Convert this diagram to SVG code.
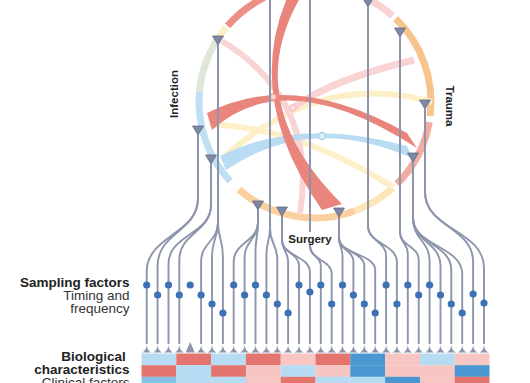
<svg xmlns="http://www.w3.org/2000/svg" width="530" height="383" viewBox="0 0 530 383">
<style>
.ring{fill:none;stroke-width:7}
.rib{fill:none}
.ln{fill:none;stroke:#8c95ac;stroke-width:1.9}
.tri{fill:#7e88a5;stroke:#5f6987;stroke-width:0.8;stroke-linejoin:round}
.fan{fill:#8c95ac}
.dot{fill:#3d71b3}
.lbl{font-family:"Liberation Sans",Arial,sans-serif;fill:#222}
.b{font-weight:bold}
.r{font-weight:normal;fill:#333}
.lb{fill:#b5dcf3}.rd{fill:#e3756e}.lp{fill:#f8c6c2}.db{fill:#4a96d0}.mb{fill:#86c1e8}
</style>
<defs>
<path id="fan" d="M0,0 Q0,6.5 -4.6,8.5 H4.6 Q0,6.5 0,0Z"/>
<path id="tv" d="M-5.5,-9 H5.5 L0,0Z"/>
</defs>
<rect width="530" height="383" fill="#fff"/>

<g id="ring">
<path class="ring" stroke="#ec8f87" d="M227.5,25.9 A116,116 0 0 1 264.1,-2.3"/>
<path class="ring" stroke="#f9d3d1" d="M369.5,-0.4 A116,116 0 0 1 392.6,15.8"/>
<path class="ring" stroke="#f8c48e" d="M395.6,18.6 A116,116 0 0 1 430.1,116.1"/>
<path class="ring" stroke="#f2ada2" d="M429.2,122.1 A116,116 0 0 1 397.0,184.0"/>
<path class="ring" stroke="#fde6b8" d="M392.6,188.2 A116,116 0 0 1 354.7,211.0"/>
<path class="ring" stroke="#fbcf9f" d="M354.7,211.0 A116,116 0 0 1 238.9,189.5"/>
<path class="ring" stroke="#bfdff2" d="M230.2,181.1 A116,116 0 0 1 199.4,91.9"/>
<path class="ring" stroke="#dfe7dc" d="M199.4,91.9 A116,116 0 0 1 217.7,38.8"/>
<path class="ring" stroke="#fcefc5" d="M217.7,38.8 A116,116 0 0 1 226.1,27.4"/>
</g>

<g id="chords">
<path class="rib" stroke="#fdf0c8" stroke-width="6" d="M210,124 Q300,128 393,187"/>
<path class="rib" stroke="#fdf0c8" stroke-width="6" d="M223,158 Q320,70 432,102"/>
<path class="rib" stroke="#f9d4d4" stroke-width="6" d="M222,41 Q318,100 300,213"/>
<path class="rib" stroke="#f9d4d4" stroke-width="7" d="M414,60 Q330,80 293,108"/>
<path fill="#b9dcf3" d="M220,156 Q300,116 407,146 L412,158 Q310,113 226,170 Z"/>
<path fill="#e9857d" d="M287,-2 Q244,100 322,210 L342,204 Q240,103 300,-2 Z"/>
<path fill="#e9857d" d="M207,113 Q293,69 407,133 L417,148 Q285.5,63 212,130 Z"/>
<circle cx="273" cy="97" r="3" fill="#fbd6d2" stroke="#eea49c" stroke-width="1.3"/>
<circle cx="293" cy="108" r="3" fill="#fce4e4" stroke="#f5c0c0" stroke-width="1.3"/>
<circle cx="322" cy="136" r="3.5" fill="#d9ecf9" stroke="#a9d2ef" stroke-width="1.3"/>
</g>

<g id="connectors">
<path class="ln" d="M198,135V198C198,235 146.7,235 146.7,272V344"/>
<path class="ln" d="M198,135V198C198,232 157.6,232 157.6,266V344"/>
<path class="ln" d="M211,164V205C211,234.5 168.5,234.5 168.5,264V344"/>
<path class="ln" d="M211,164V205C211,232.5 179.3,232.5 179.3,260V344"/>
<path class="ln" d="M218,45V222C218,242 201.1,242 201.1,262V344"/>
<path class="ln" d="M218,45V222C218,239 212,239 212,256V344"/>
<path class="ln" d="M218,45V222C218,239 222.9,239 222.9,256V344"/>
<path class="ln" d="M258,210V222C258,242 233.7,242 233.7,262V344"/>
<path class="ln" d="M258,210V222C258,240 244.6,240 244.6,258V344"/>
<path class="ln" d="M258,210V222C258,237 255.5,237 255.5,252V344"/>
<path class="ln" d="M270,0V228C270,241.5 266.4,241.5 266.4,255V344"/>
<path class="ln" d="M270,0V228C270,244 277.3,244 277.3,260V344"/>
<path class="ln" d="M282,216V240C282,251 288.1,251 288.1,262V344"/>
<path class="ln" d="M282,216V240C282,253 299,253 299,266V344"/>
<path class="ln" d="M282,216V240C282,256 309.9,256 309.9,272V344"/>
<path class="ln" d="M310,0V246C310,256 320.8,256 320.8,266V344"/>
<path class="ln" d="M310,0V246C310,260 331.7,260 331.7,274V344"/>
<path class="ln" d="M339,217V238C339,247 342.5,247 342.5,256V344"/>
<path class="ln" d="M339,217V238C339,250 353.4,250 353.4,262V344"/>
<path class="ln" d="M339,217V238C339,252 364.3,252 364.3,266V344"/>
<path class="ln" d="M339,217V238C339,254 375.2,254 375.2,270V344"/>
<path class="ln" d="M368,7V226C368,241 386.1,241 386.1,256V344"/>
<path class="ln" d="M368,7V226C368,244 396.9,244 396.9,262V344"/>
<path class="ln" d="M400,37V232C400,243 407.8,243 407.8,254V344"/>
<path class="ln" d="M400,37V232C400,246 418.7,246 418.7,260V344"/>
<path class="ln" d="M413,162V218C413,240 429.6,240 429.6,262V344"/>
<path class="ln" d="M413,162V218C413,242 440.5,242 440.5,266V344"/>
<path class="ln" d="M413,162V218C413,244 451.3,244 451.3,270V344"/>
<path class="ln" d="M413,162V218C413,246 462.2,246 462.2,274V344"/>
<path class="ln" d="M425,109V192C425,227 473.1,227 473.1,262V344"/>
<path class="ln" d="M425,109V192C425,230 484,230 484,268V344"/>
</g>

<g id="sample-points">
<use href="#tv" class="tri" x="218" y="45"/>
<use href="#tv" class="tri" x="198" y="135"/>
<use href="#tv" class="tri" x="211" y="164"/>
<use href="#tv" class="tri" x="258" y="210"/>
<use href="#tv" class="tri" x="282" y="216"/>
<use href="#tv" class="tri" x="339" y="217"/>
<use href="#tv" class="tri" x="368" y="7"/>
<use href="#tv" class="tri" x="400" y="37"/>
<use href="#tv" class="tri" x="413" y="162"/>
<use href="#tv" class="tri" x="425" y="109"/>
</g>

<g id="labels-circle">
<text class="lbl b" font-size="11.5" text-anchor="middle" transform="translate(178,94) rotate(-90)">Infection</text>
<text class="lbl b" font-size="11.5" text-anchor="middle" transform="translate(446,106) rotate(90)">Trauma</text>
<rect x="287" y="232" width="46" height="13" fill="#fff"/>
<text class="lbl b" font-size="11.5" x="310" y="243" text-anchor="middle">Surgery</text>
</g>

<g id="dots">
<circle class="dot" cx="146.7" cy="285" r="3.6"/>
<circle class="dot" cx="157.6" cy="295" r="3.6"/>
<circle class="dot" cx="168.5" cy="285" r="3.6"/>
<circle class="dot" cx="179.3" cy="295" r="3.6"/>
<circle class="dot" cx="190.2" cy="285" r="3.6"/>
<circle class="dot" cx="201.1" cy="295" r="3.6"/>
<circle class="dot" cx="212.0" cy="304" r="3.6"/>
<circle class="dot" cx="222.9" cy="313" r="3.6"/>
<circle class="dot" cx="233.7" cy="285" r="3.6"/>
<circle class="dot" cx="244.6" cy="295" r="3.6"/>
<circle class="dot" cx="255.5" cy="285" r="3.6"/>
<circle class="dot" cx="266.4" cy="295" r="3.6"/>
<circle class="dot" cx="277.3" cy="304" r="3.6"/>
<circle class="dot" cx="288.1" cy="313" r="3.6"/>
<circle class="dot" cx="299.0" cy="285" r="3.6"/>
<circle class="dot" cx="309.9" cy="292" r="3.6"/>
<circle class="dot" cx="320.8" cy="285" r="3.6"/>
<circle class="dot" cx="331.7" cy="304" r="3.6"/>
<circle class="dot" cx="342.5" cy="285" r="3.6"/>
<circle class="dot" cx="353.4" cy="295" r="3.6"/>
<circle class="dot" cx="364.3" cy="304" r="3.6"/>
<circle class="dot" cx="375.2" cy="313" r="3.6"/>
<circle class="dot" cx="386.1" cy="285" r="3.6"/>
<circle class="dot" cx="396.9" cy="304" r="3.6"/>
<circle class="dot" cx="407.8" cy="285" r="3.6"/>
<circle class="dot" cx="418.7" cy="295" r="3.6"/>
<circle class="dot" cx="429.6" cy="285" r="3.6"/>
<circle class="dot" cx="440.5" cy="295" r="3.6"/>
<circle class="dot" cx="451.3" cy="304" r="3.6"/>
<circle class="dot" cx="462.2" cy="313" r="3.6"/>
<circle class="dot" cx="473.1" cy="294" r="3.6"/>
<circle class="dot" cx="484.0" cy="303" r="3.6"/>
</g>

<g id="fans">
<use href="#fan" class="fan" x="146.7" y="344"/>
<use href="#fan" class="fan" x="157.6" y="344"/>
<use href="#fan" class="fan" x="168.5" y="344"/>
<use href="#fan" class="fan" x="179.3" y="344"/>
<path class="fan" d="M190.2,342 L185.6,352.5 H194.8 Z"/>
<use href="#fan" class="fan" x="201.1" y="344"/>
<use href="#fan" class="fan" x="212.0" y="344"/>
<use href="#fan" class="fan" x="222.9" y="344"/>
<use href="#fan" class="fan" x="233.7" y="344"/>
<use href="#fan" class="fan" x="244.6" y="344"/>
<use href="#fan" class="fan" x="255.5" y="344"/>
<use href="#fan" class="fan" x="266.4" y="344"/>
<use href="#fan" class="fan" x="277.3" y="344"/>
<use href="#fan" class="fan" x="288.1" y="344"/>
<use href="#fan" class="fan" x="299.0" y="344"/>
<use href="#fan" class="fan" x="309.9" y="344"/>
<use href="#fan" class="fan" x="320.8" y="344"/>
<use href="#fan" class="fan" x="331.7" y="344"/>
<use href="#fan" class="fan" x="342.5" y="344"/>
<use href="#fan" class="fan" x="353.4" y="344"/>
<use href="#fan" class="fan" x="364.3" y="344"/>
<use href="#fan" class="fan" x="375.2" y="344"/>
<use href="#fan" class="fan" x="386.1" y="344"/>
<use href="#fan" class="fan" x="396.9" y="344"/>
<use href="#fan" class="fan" x="407.8" y="344"/>
<use href="#fan" class="fan" x="418.7" y="344"/>
<use href="#fan" class="fan" x="429.6" y="344"/>
<use href="#fan" class="fan" x="440.5" y="344"/>
<use href="#fan" class="fan" x="451.3" y="344"/>
<use href="#fan" class="fan" x="462.2" y="344"/>
<use href="#fan" class="fan" x="473.1" y="344"/>
<use href="#fan" class="fan" x="484.0" y="344"/>
</g>

<g id="heatmap">
<rect class="lb" x="141.5" y="353.5" width="34.9" height="11.8"/>
<rect class="rd" x="176.3" y="353.5" width="34.9" height="11.8"/>
<rect class="lb" x="211.1" y="353.5" width="34.9" height="11.8"/>
<rect class="rd" x="245.9" y="353.5" width="34.9" height="11.8"/>
<rect class="lp" x="280.7" y="353.5" width="34.9" height="11.8"/>
<rect class="rd" x="315.5" y="353.5" width="34.9" height="11.8"/>
<rect class="db" x="350.3" y="353.5" width="34.9" height="11.8"/>
<rect class="lp" x="385.1" y="353.5" width="34.9" height="11.8"/>
<rect class="lb" x="419.9" y="353.5" width="34.9" height="11.8"/>
<rect class="lp" x="454.7" y="353.5" width="34.8" height="11.8"/>
<rect class="rd" x="141.5" y="365.2" width="34.9" height="11.7"/>
<rect class="lb" x="176.3" y="365.2" width="34.9" height="11.7"/>
<rect class="rd" x="211.1" y="365.2" width="34.9" height="11.7"/>
<rect class="lp" x="245.9" y="365.2" width="34.9" height="11.7"/>
<rect class="lb" x="280.7" y="365.2" width="34.9" height="11.7"/>
<rect class="lp" x="315.5" y="365.2" width="34.9" height="11.7"/>
<rect class="db" x="350.3" y="365.2" width="34.9" height="11.7"/>
<rect class="lp" x="385.1" y="365.2" width="34.9" height="11.7"/>
<rect class="lp" x="419.9" y="365.2" width="34.9" height="11.7"/>
<rect class="db" x="454.7" y="365.2" width="34.8" height="11.7"/>
<rect class="mb" x="141.5" y="376.8" width="34.9" height="7"/>
<rect class="lb" x="176.3" y="376.8" width="34.9" height="7"/>
<rect class="lb" x="211.1" y="376.8" width="34.9" height="7"/>
<rect class="lp" x="245.9" y="376.8" width="34.9" height="7"/>
<rect class="rd" x="280.7" y="376.8" width="34.9" height="7"/>
<rect class="lb" x="315.5" y="376.8" width="34.9" height="7"/>
<rect class="lb" x="350.3" y="376.8" width="34.9" height="7"/>
<rect class="db" x="385.1" y="376.8" width="34.9" height="7"/>
<rect class="lp" x="419.9" y="376.8" width="34.9" height="7"/>
<rect class="rd" x="454.7" y="376.8" width="34.8" height="7"/>
</g>

<g id="labels-left" text-anchor="end" font-size="13.5">
<text class="lbl"><tspan class="b" x="129.5" y="287">Sampling factors</tspan><tspan class="r" x="129.5" y="300">Timing and</tspan><tspan class="r" x="129.5" y="312.5">frequency</tspan></text>
<text class="lbl"><tspan class="b" x="125.7" y="361">Biological</tspan><tspan class="b" x="129.5" y="374">characteristics</tspan><tspan class="r" x="129.5" y="387">Clinical factors</tspan></text>
</g>
</svg>
